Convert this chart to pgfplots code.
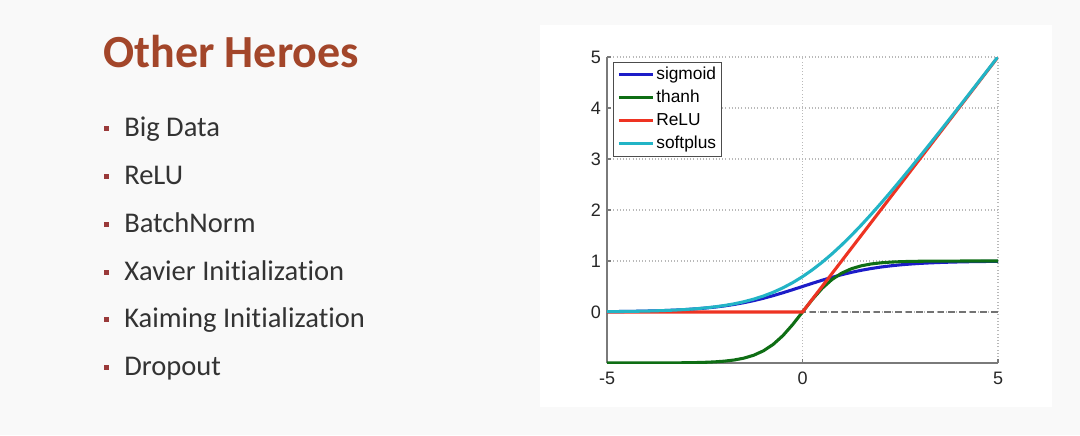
\documentclass[border=0pt]{standalone}
\usepackage{pgfplots}
\pgfplotsset{compat=1.18}
\usepackage{fontspec}
\setmainfont{Liberation Sans}
\newfontfamily\calibri[RawFeature={-liga,-clig,-dlig}]{Carlito}
\definecolor{bgcol}{HTML}{F9F9F9}
\definecolor{titlered}{HTML}{A3462A}
\definecolor{bulletred}{HTML}{9A3A3A}
\definecolor{bodytext}{HTML}{333333}
\definecolor{csig}{HTML}{1C1CC8}
\definecolor{ctanh}{HTML}{0E6E14}
\definecolor{crelu}{HTML}{EE3322}
\definecolor{csoft}{HTML}{22B4C6}
\definecolor{axgray}{HTML}{7A7A7A}

\pgfplotstableread{
x sig tanh soft
-5 0.00669 -0.99991 0.00672
-4.75 0.00858 -0.99985 0.00862
-4.5 0.01099 -0.99975 0.01105
-4.25 0.01406 -0.99959 0.01416
-4 0.01799 -0.99933 0.01815
-3.75 0.02298 -0.99890 0.02325
-3.5 0.02931 -0.99818 0.02975
-3.25 0.03732 -0.99700 0.03804
-3 0.04743 -0.99505 0.04859
-2.75 0.06009 -0.99186 0.06197
-2.5 0.07586 -0.98661 0.07889
-2.25 0.09535 -0.97803 0.10025
-2 0.11920 -0.96403 0.12693
-1.75 0.14804 -0.94138 0.16022
-1.5 0.18243 -0.90515 0.20141
-1.25 0.22270 -0.84828 0.25193
-1 0.26894 -0.76159 0.31326
-0.75 0.32082 -0.63515 0.38687
-0.5 0.37754 -0.46212 0.47408
-0.25 0.43782 -0.24492 0.57593
0 0.5 0 0.69315
0.25 0.56218 0.24492 0.82593
0.5 0.62246 0.46212 0.97408
0.75 0.67918 0.63515 1.13687
1 0.73106 0.76159 1.31326
1.25 0.77730 0.84828 1.50193
1.5 0.81757 0.90515 1.70141
1.75 0.85196 0.94138 1.91022
2 0.88080 0.96403 2.12693
2.25 0.90465 0.97803 2.35025
2.5 0.92414 0.98661 2.57889
2.75 0.93991 0.99186 2.81197
3 0.95257 0.99505 3.04859
3.25 0.96268 0.99700 3.28804
3.5 0.97069 0.99818 3.52975
3.75 0.97702 0.99890 3.77325
4 0.98201 0.99933 4.01815
4.25 0.98594 0.99959 4.26416
4.5 0.98901 0.99975 4.51105
4.75 0.99142 0.99985 4.75862
5 0.99331 0.99991 5.00672
}\curves

\begin{document}
\begin{tikzpicture}[x=0.75pt,y=0.75pt]
\path[use as bounding box] (0,0) rectangle (1080,435);
\fill[bgcol] (0,0) rectangle (1080,435);
\fill[white] (540,28) rectangle (1052,410);
% title
\node[anchor=base west, inner sep=0, text=titlered,
      font=\calibri\bfseries\fontsize{34.5}{40}\selectfont] at (103,367) {Other Heroes};
% bullets
\foreach \yb/\txt in {137/Big Data, 185/ReLU, 233/BatchNorm, 281/Xavier Initialization, 328/Kaiming Initialization, 376/Dropout}{
  \fill[bulletred] (103.5,435-\yb+5.5) rectangle (108.5,435-\yb+10.5);
  \node[anchor=base west, inner sep=0, text=bodytext,
        font=\calibri\fontsize{21.4}{26}\selectfont] at (124,435-\yb) {\txt};
}
\begin{axis}[
  at={(455.25pt,54pt)}, anchor=south west,
  scale only axis, width=293.25pt, height=229.5pt,
  xmin=-5, xmax=5, ymin=-1, ymax=5,
  axis lines=left,
  axis line style={-, draw=axgray, line width=0.9pt},
  xtick={-5,0,5}, xticklabels={-5,0,5},
  ytick={0,1,2,3,4,5}, yticklabels={0,1,2,3,4,5},
  tick align=inside, major tick length=3pt,
  tick style={draw=axgray, line width=0.8pt},
  grid=major,
  major grid style={draw=gray!55, dotted, line width=0.9pt},
  ticklabel style={font=\fontsize{13.5}{13.5}\selectfont, text=black!85},
  xticklabel style={yshift=-3pt},
  yticklabel style={xshift=-1pt},
  legend cell align=left,
  legend style={at={(rel axis cs:0,1)}, anchor=north west, xshift=4.3pt, yshift=-3.5pt,
    draw=black!70, line width=0.8pt, fill=white,
    font=\fontsize{13}{13}\selectfont,
    inner xsep=3pt, inner ysep=2pt,
    nodes={inner sep=1pt, text height=10pt, text depth=3pt},
    row sep=2.25pt},
  legend image code/.code={\draw[#1] (0pt,0pt) -- (26pt,0pt);},
]
\addplot[forget plot, draw=black!55, line width=1.1pt, dash pattern=on 5pt off 3pt] coordinates {(-5,0) (5,0)};
\addplot[csig, line width=2.3pt] table[x=x, y=sig] {\curves};
\addlegendentry{sigmoid}
\addplot[ctanh, line width=2.3pt] table[x=x, y=tanh] {\curves};
\addlegendentry{thanh}
\addplot[crelu, line width=2.3pt] coordinates {(-5,0) (0,0) (5,5)};
\addlegendentry{ReLU}
\addplot[csoft, line width=2.3pt] table[x=x, y=soft] {\curves};
\addlegendentry{softplus}
\end{axis}
\end{tikzpicture}
\end{document}
